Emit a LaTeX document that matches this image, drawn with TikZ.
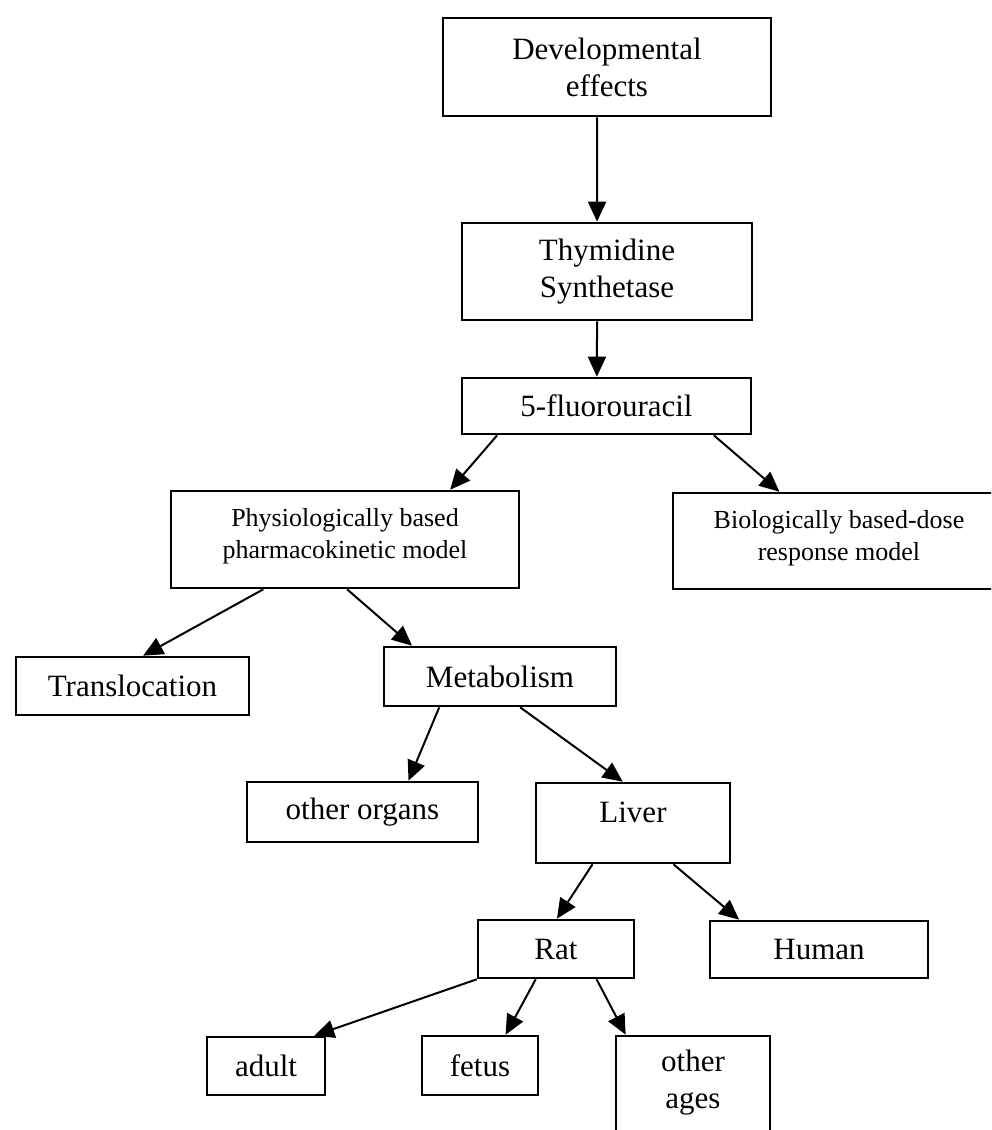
\documentclass[tikz,border=0pt]{standalone}
\usepackage{fontspec}
\setmainfont{Liberation Serif}
\usetikzlibrary{arrows.meta,calc}
\begin{document}
\begin{tikzpicture}[x=0.5pt,y=-0.5pt,
  box/.style={draw,line width=1.3pt,inner sep=0pt,align=center,font=\fontsize{15.5}{18.5}\selectfont},
  smallbox/.style={box,font=\fontsize{13}{16}\selectfont},
  arr/.style={line width=1pt,-{Triangle[length=10pt,width=9pt]}}]
\useasboundingbox (0,0) rectangle (991,1130);
\clip (0,0) rectangle (991,1130);
% boxes
\node[box,minimum width=164pt,minimum height=49pt] (dev) at (607,67) {Developmental\\effects};
\node[box,minimum width=145pt,minimum height=48.5pt] (thym) at (607,271.5) {Thymidine\\Synthetase};
\node[box,minimum width=144.5pt,minimum height=28pt] (fu) at (606.5,406) {5-fluorouracil};
\node[smallbox,minimum width=174pt,minimum height=48.5pt,text depth=6pt] (phys) at (345,539.5) {Physiologically based\\pharmacokinetic model};
\node[smallbox,minimum width=166pt,minimum height=48pt,text depth=6pt] (bio) at (839,541) {Biologically based-dose\\response model};
\node[box,minimum width=116.5pt,minimum height=29pt] (trans) at (132.5,686) {Translocation};
\node[box,minimum width=116pt,minimum height=29.5pt] (metab) at (500,676.5) {Metabolism};
\node[box,minimum width=115.5pt,minimum height=30pt] (other) at (362.5,812) {other organs};
\node[box,minimum width=97pt,minimum height=40pt,text depth=11pt] (liver) at (633,823) {Liver};
\node[box,minimum width=78pt,minimum height=29pt] (rat) at (556,949) {Rat};
\node[box,minimum width=109pt,minimum height=28.5pt] (human) at (819,949.5) {Human};
\node[box,minimum width=59pt,minimum height=29pt] (adult) at (266,1066) {adult};
\node[box,minimum width=58pt,minimum height=29.5pt] (fetus) at (480,1065.5) {fetus};
\node[box,minimum width=77pt,minimum height=52pt,text depth=8.4pt] (ages) at (693,1088) {other\\ages};
% connectors
\draw[arr] ($(dev.south west)!0.47!(dev.south east)$) -- ($(thym.north west)!0.466!(thym.north east)$);
\draw[arr] ($(thym.south west)!0.466!(thym.south east)$) -- ($(fu.north west)!0.467!(fu.north east)$);
\draw[arr] ($(fu.south west)!0.125!(fu.south east)$) -- ($(phys.north west)!0.80!(phys.north east)$);
\draw[arr] ($(fu.south west)!0.868!(fu.south east)$) -- ($(bio.north west)!0.322!(bio.north east)$);
\draw[arr] ($(phys.south west)!0.267!(phys.south east)$) -- ($(trans.north west)!0.545!(trans.north east)$);
\draw[arr] ($(phys.south west)!0.506!(phys.south east)$) -- ($(metab.north west)!0.125!(metab.north east)$);
\draw[arr] ($(metab.south west)!0.241!(metab.south east)$) -- ($(other.north west)!0.697!(other.north east)$);
\draw[arr] ($(metab.south west)!0.586!(metab.south east)$) -- ($(liver.north west)!0.448!(liver.north east)$);
\draw[arr] ($(liver.south west)!0.294!(liver.south east)$) -- ($(rat.north west)!0.506!(rat.north east)$);
\draw[arr] ($(liver.south west)!0.706!(liver.south east)$) -- ($(human.north west)!0.138!(human.north east)$);
\draw[arr] (rat.south west) -- ($(adult.north west)!0.9!(adult.north east)$);
\draw[arr] ($(rat.south west)!0.372!(rat.south east)$) -- ($(fetus.north west)!0.716!(fetus.north east)$);
\draw[arr] ($(rat.south west)!0.756!(rat.south east)$) -- ($(ages.north west)!0.07!(ages.north east)$);
\end{tikzpicture}
\end{document}
